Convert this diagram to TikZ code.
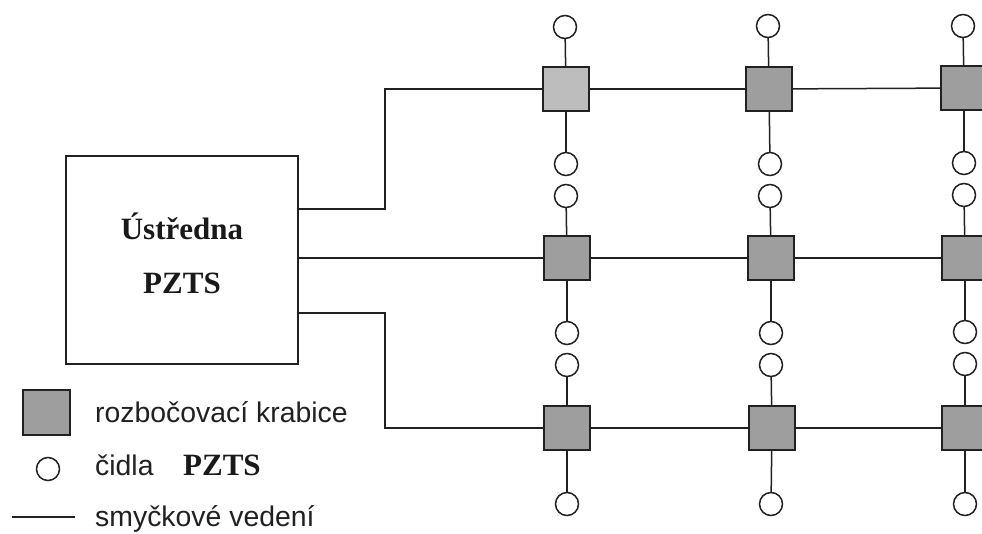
\documentclass[tikz,border=0pt]{standalone}
\usepackage{fontspec}
\setmainfont{Liberation Serif}
\setsansfont{Liberation Sans}
\usetikzlibrary{calc}
\definecolor{boxg}{gray}{0.62}
\definecolor{boxl}{gray}{0.74}
\definecolor{ink}{gray}{0.13}
\tikzset{
  x=1pt,y=-1pt,
  wire/.style={draw=ink,line width=1.5pt},
  boxn/.style={draw=ink,line width=2pt,fill=boxg,minimum width=46pt,minimum height=44pt,inner sep=0pt,outer sep=0pt},
  sensor/.style={circle,draw=ink,line width=1.5pt,fill=white,minimum size=23pt,inner sep=0pt,outer sep=0pt},
  central/.style={draw=ink,line width=1.5pt,fill=white,minimum width=232pt,minimum height=208pt,inner sep=0pt,outer sep=0pt},
  serifb/.style={font=\rmfamily\bfseries\fontsize{31}{34}\selectfont,inner sep=0pt,text=black!90},
  legendt/.style={font=\sffamily\fontsize{28.4}{32}\selectfont,anchor=base west,inner sep=0pt,text=ink},
}
\begin{document}
\begin{tikzpicture}
\path[use as bounding box] (0,0) rectangle (982,533);
\clip (0,0) rectangle (982,533);
\fill[white] (0,0) rectangle (982,533);
% central unit
\node[central] (main) at (182,260) {};
\node[serifb] (t1) at (182,226) {Ústředna};
\node[serifb] (t2) at (182,283) {PZTS};
\coordinate (o1) at (298,209);
\coordinate (o2) at (298,258);
\coordinate (o3) at (298,313);
% row 1
\node[boxn,fill=boxl] (b11) at (566,89) {};
\node[boxn] (b12) at (769,89) {};
\node[boxn] (b13) at (964,88) {};
% row 2
\node[boxn] (b21) at (567,258) {};
\node[boxn] (b22) at (771,258) {};
\node[boxn] (b23) at (965,258) {};
% row 3
\node[boxn] (b31) at (567,428) {};
\node[boxn] (b32) at (772,428) {};
\node[boxn] (b33) at (965,428) {};
% sensors
\node[sensor] (s11a) at (565,27) {};
\node[sensor] (s12a) at (768,26) {};
\node[sensor] (s13a) at (963,26) {};
\node[sensor] (s11b) at (566,164) {};
\node[sensor] (s12b) at (770,164) {};
\node[sensor] (s13b) at (964,163) {};
\node[sensor] (s21a) at (566,196) {};
\node[sensor] (s22a) at (770,196) {};
\node[sensor] (s23a) at (964,195) {};
\node[sensor] (s21b) at (567,333) {};
\node[sensor] (s22b) at (771,333) {};
\node[sensor] (s23b) at (965,332) {};
\node[sensor] (s31a) at (567,365) {};
\node[sensor] (s32a) at (771,365) {};
\node[sensor] (s33a) at (965,364) {};
\node[sensor] (s31b) at (567,504) {};
\node[sensor] (s32b) at (771,504) {};
\node[sensor] (s33b) at (965,504) {};
% loops
\draw[wire] (o1) -| (385,89) -- (b11.west);
\draw[wire] (o2) -- (b21.west);
\draw[wire] (o3) -| (385,428) -- (b31.west);
\draw[wire] (b11) -- (b12);
\draw[wire] (b12) -- (b13);
\draw[wire] (b21) -- (b22);
\draw[wire] (b22) -- (b23);
\draw[wire] (b31) -- (b32);
\draw[wire] (b32) -- (b33);
% stubs
\foreach \r in {1,2,3}{
  \foreach \c in {1,2,3}{
    \draw[wire] (s\r\c a) -- (b\r\c);
    \draw[wire] (b\r\c) -- (s\r\c b);
  }
}
% legend
\node[boxn,minimum width=47pt,minimum height=45pt] (lb) at (46,412) {};
\node[sensor] (ls) at (48,469) {};
\coordinate (la) at (12,517);
\coordinate (lc) at (75,517);
\draw[wire] (la) -- (lc);
\node[legendt] (l1) at (95,422) {rozbočovací krabice};
\node[legendt] (l2) at (95,475) {čidla};
\node[serifb,anchor=base west] (l2b) at (183,475) {PZTS};
\node[legendt] (l3) at (95,526) {smyčkové vedení};
\end{tikzpicture}
\end{document}
